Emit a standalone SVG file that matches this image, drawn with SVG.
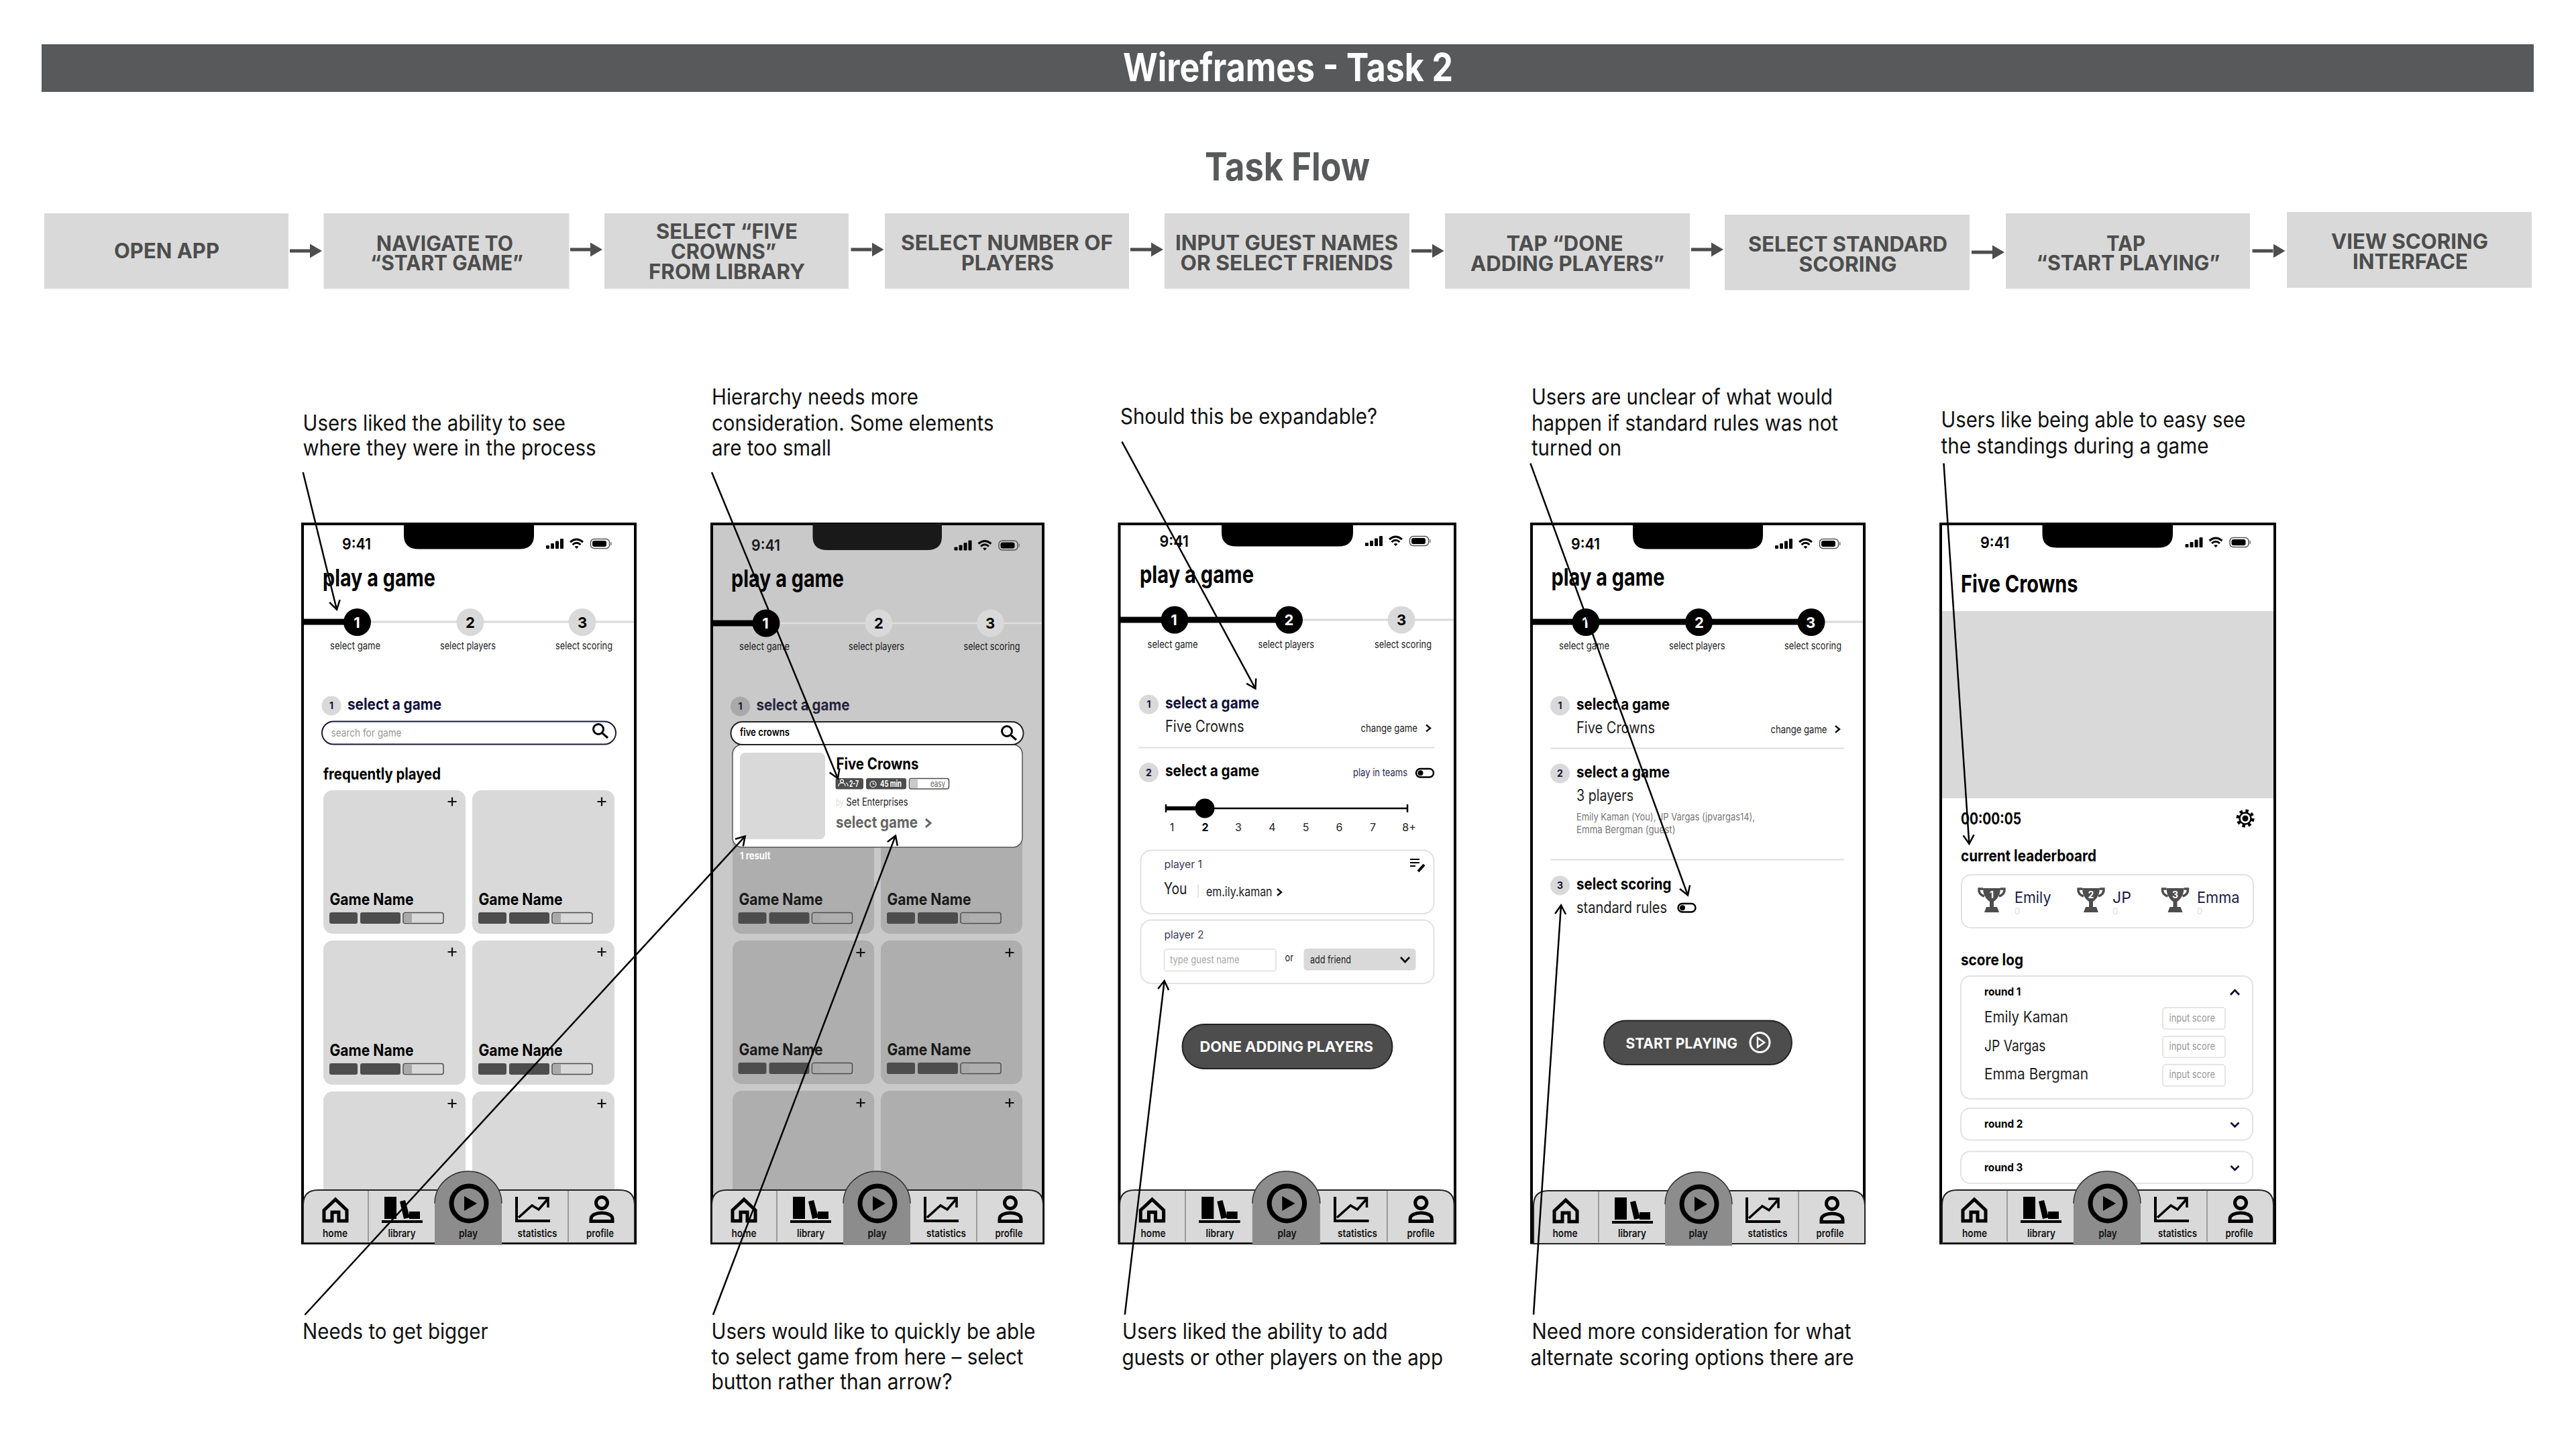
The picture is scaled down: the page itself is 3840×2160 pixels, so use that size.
<svg xmlns="http://www.w3.org/2000/svg" width="3840" height="2160" viewBox="0 0 3840 2160">
<style>
text{font-family:Inter,"Liberation Sans",sans-serif;fill:#000}
.title{font-size:58px;font-weight:700;fill:#fff}
.sub{font-size:58px;font-weight:700;fill:#58595b}
.box{fill:#d9d9d9}
.fl{font-size:31px;font-weight:700;fill:#4d4d4d;text-anchor:middle}
.ann{font-size:32px;font-weight:400;fill:#111}
.conn{stroke:#000;stroke-width:2.5;fill:none;marker-end:url(#open)}
.flow{stroke:#4d4d4d;stroke-width:5;fill:none;marker-end:url(#solid)}
.frame{fill:#fff;stroke:#000;stroke-width:4}
.time{font-size:23px;font-weight:600}
.h1{font-size:36px;font-weight:700}
.h2{font-size:24px;font-weight:700}
.h2n{font-size:24px;font-weight:700;fill:#12123a}
.reg{font-size:24px;font-weight:400;fill:#222}
.sm{font-size:16px;font-weight:400;fill:#222}
.ph{font-size:16px;font-weight:400;fill:#999}
.tab{font-size:16px;font-weight:600;text-anchor:middle;fill:#111}
.stepW{font-size:22px;font-weight:700;fill:#fff;text-anchor:middle}
.stepK{font-size:22px;font-weight:700;fill:#000;text-anchor:middle}
.bdg{font-size:14px;font-weight:700;fill:#12123a;text-anchor:middle}
.num{font-size:16px;font-weight:400;fill:#222;text-anchor:middle}
.thin{stroke:#d9d9d9;stroke-width:3}
.thick{stroke:#000;stroke-width:9}
.rule{stroke:#ddd;stroke-width:2}
.outl{fill:#fff;stroke:#e2e2e2;stroke-width:2}
.card{fill:#d9d9d9}
.cardd{fill:#aeaeae}
</style>
<defs>
<marker id="open" markerUnits="userSpaceOnUse" markerWidth="24" markerHeight="24" viewBox="-18 -12 24 24" refX="0" refY="0" orient="auto"><path d="M-13,-8 L0,0 L-13,8" fill="none" stroke="#000" stroke-width="2.5"/></marker>
<marker id="solid" markerUnits="userSpaceOnUse" markerWidth="22" markerHeight="24" viewBox="0 -12 22 24" refX="0" refY="0" orient="auto"><path d="M0,-10.5 L18,0 L0,10.5 Z" fill="#4d4d4d"/></marker>
<g id="status">
<rect x="0" y="10" width="5" height="5" rx="1"/><rect x="7" y="7" width="5" height="8" rx="1"/><rect x="14" y="3.500" width="5" height="11.500" rx="1"/><rect x="21" y="0" width="5" height="15" rx="1"/>
<path d="M36,5 Q45.500,-3 55,5 M39.500,9 Q45.500,3.500 51.500,9" fill="none" stroke="#000" stroke-width="3"/><path d="M42.500,12 L45.500,15 L48.500,12 Q45.500,10 42.500,12 Z"/>
<rect x="66.500" y="0.500" width="28" height="14" rx="5" fill="none" stroke="#555" stroke-width="1.500"/><rect x="69" y="3" width="21" height="9" rx="3"/><rect x="96" y="5" width="1.500" height="5" fill="#777"/>
</g>
<g id="tabbar">
<path d="M1,1853 V1796 Q1,1774 23,1774 H473 Q495,1774 495,1796 V1853 Z" fill="#d9d9d9" stroke="#222" stroke-width="2"/>
<path d="M98,1775 V1851 M396,1775 V1851" stroke="#888" stroke-width="1.500"/>
<path d="M197,1856 V1794 C197,1765 222,1746 247,1746 C272,1746 297,1765 297,1794 V1856 Z" fill="#8c8c8c"/>
<path d="M197,1794 C197,1765 222,1746 247,1746 C272,1746 297,1765 297,1794" fill="none" stroke="#333" stroke-width="1.500"/>
<path d="M49,1788 L32,1804 V1820 H44 V1807 H54 V1820 H66 V1804 Z" fill="none" stroke="#000" stroke-width="5"/>
<rect x="122" y="1784" width="18" height="33"/><path d="M145,1791 L153,1789 L160,1815 L151,1817 Z"/><rect x="159" y="1806" width="16" height="11"/><rect x="118" y="1819" width="61" height="4"/>
<ellipse cx="248" cy="1794" rx="26" ry="26" fill="none" stroke="#000" stroke-width="7"/><path d="M241,1783 L260,1794 L241,1805 Z"/>
<path d="M319,1784 V1820 H369" fill="none" stroke="#000" stroke-width="4"/><path d="M322,1815 L342,1797 L352,1803 L365,1788 M351,1786 H366 V1800" fill="none" stroke="#000" stroke-width="3.500"/>
<circle cx="446" cy="1793" r="8.500" fill="none" stroke="#000" stroke-width="5"/><path d="M430,1820.500 V1817 C430,1811 438,1808 446,1808 S462,1811 462,1817 V1820.500 Z" fill="none" stroke="#000" stroke-width="5"/>
</g>
<g id="mag"><circle cx="-3" cy="-3" r="7.500" fill="none" stroke="#000" stroke-width="3"/><path d="M3,3 L11,10" stroke="#000" stroke-width="3"/></g>
<path id="plus" d="M-6.500,0 H6.500 M0,-6.500 V6.500" stroke="#111" stroke-width="2.200" fill="none"/>
<g id="pills"><rect x="0" y="0" width="42" height="17" rx="3" fill="#4d4d4d"/><rect x="46" y="0" width="60" height="17" rx="3" fill="#4d4d4d"/><rect x="110" y="0.500" width="60" height="16" rx="3" stroke="#4d4d4d" stroke-width="1.500"/><rect x="111" y="1.500" width="12" height="14" fill="#a9a9a9"/></g>
<path id="chev" d="M-4,-5 L2,0 L-4,5" fill="none" stroke="#111" stroke-width="2.500"/>
<path id="chevd" d="M-6,-3 L0,3 L6,-3" fill="none" stroke="#12123a" stroke-width="2.800"/>
<g id="toggle"><rect x="1" y="1" width="26" height="12.500" rx="6.200" fill="#fff" stroke="#000" stroke-width="2.500"/><circle cx="7.500" cy="7.200" r="4"/></g>
<g id="trophy"><path d="M-13,2 H13 C13,14 6,20 3,22 V30 H8 L11,38 H-11 L-8,30 H-3 V22 C-6,20 -13,14 -13,2 Z" fill="#4d4d4d"/><path d="M-13,3 H-19 Q-20,11 -11,14 M13,3 H19 Q20,11 11,14" fill="none" stroke="#4d4d4d" stroke-width="3.500"/></g>
</defs>

<rect width="3840" height="2160" fill="#fff"/>

<g id="header"><rect x="62" y="66" width="3715" height="71" fill="#58595b"/>
<text class="title" x="1674" y="121" textLength="492" lengthAdjust="spacingAndGlyphs">Wireframes - Task 2</text></g>
<text id="subtitle" class="sub" x="1796" y="269" textLength="246" lengthAdjust="spacingAndGlyphs">Task Flow</text>

<g id="flow-1"><rect class="box" x="66" y="318" width="364" height="112.500"/><text class="fl" x="248.500" y="385" textLength="157" lengthAdjust="spacingAndGlyphs">OPEN APP</text></g>
<g id="flow-2"><rect class="box" x="482.500" y="318" width="366" height="112.500"/><text class="fl" x="663" y="373.500" textLength="204" lengthAdjust="spacingAndGlyphs">NAVIGATE TO</text><text class="fl" x="666" y="403.300" textLength="228" lengthAdjust="spacingAndGlyphs">“START GAME”</text></g>
<g id="flow-3"><rect class="box" x="901" y="318" width="364" height="112.500"/><text class="fl" x="1083.500" y="356" textLength="211" lengthAdjust="spacingAndGlyphs">SELECT “FIVE</text><text class="fl" x="1078.500" y="386" textLength="157" lengthAdjust="spacingAndGlyphs">CROWNS”</text><text class="fl" x="1083.500" y="416" textLength="233" lengthAdjust="spacingAndGlyphs">FROM LIBRARY</text></g>
<g id="flow-4"><rect class="box" x="1319" y="318" width="364" height="112.500"/><text class="fl" x="1501" y="373" textLength="316" lengthAdjust="spacingAndGlyphs">SELECT NUMBER OF</text><text class="fl" x="1502" y="403" textLength="138" lengthAdjust="spacingAndGlyphs">PLAYERS</text></g>
<g id="flow-5"><rect class="box" x="1736" y="318" width="365" height="112.500"/><text class="fl" x="1918" y="373" textLength="332" lengthAdjust="spacingAndGlyphs">INPUT GUEST NAMES</text><text class="fl" x="1918" y="403" textLength="317" lengthAdjust="spacingAndGlyphs">OR SELECT FRIENDS</text></g>
<g id="flow-6"><rect class="box" x="2154" y="318" width="365" height="112.500"/><text class="fl" x="2332.500" y="374" textLength="174" lengthAdjust="spacingAndGlyphs">TAP “DONE</text><text class="fl" x="2336.500" y="404" textLength="289" lengthAdjust="spacingAndGlyphs">ADDING PLAYERS”</text></g>
<g id="flow-7"><rect class="box" x="2571" y="320" width="365" height="112.500"/><text class="fl" x="2754.500" y="375" textLength="297" lengthAdjust="spacingAndGlyphs">SELECT STANDARD</text><text class="fl" x="2754.500" y="405" textLength="146" lengthAdjust="spacingAndGlyphs">SCORING</text></g>
<g id="flow-8"><rect class="box" x="2990" y="318" width="364" height="112.500"/><text class="fl" x="3169" y="373.500" textLength="58" lengthAdjust="spacingAndGlyphs">TAP</text><text class="fl" x="3172.500" y="403.300" textLength="274" lengthAdjust="spacingAndGlyphs">“START PLAYING”</text></g>
<g id="flow-9"><rect class="box" x="3409" y="316" width="365" height="113"/><text class="fl" x="3592" y="371" textLength="234" lengthAdjust="spacingAndGlyphs">VIEW SCORING</text><text class="fl" x="3593" y="401" textLength="172" lengthAdjust="spacingAndGlyphs">INTERFACE</text></g>

<!-- PHONE 1 -->
<g id="phone-1">
<rect class="frame" x="451" y="781" width="496" height="1072"/>
<path d="M602,781 H796 V798 Q796,818.500 774,818.500 H624 Q602,818.500 602,798 Z"/>
<text class="time" x="510" y="819" textLength="43" lengthAdjust="spacingAndGlyphs">9:41</text>
<use href="#status" x="814" y="803"/>
<text class="h1" x="481" y="874" textLength="168" lengthAdjust="spacingAndGlyphs">play a game</text>
<line class="thin" x1="532" y1="927" x2="945" y2="927"/><line class="thick" x1="453" y1="927" x2="532" y2="927"/>
<circle cx="532.500" cy="927.500" r="20.500"/><circle cx="701" cy="927.500" r="20.500" fill="#d9d9d9"/><circle cx="868" cy="927.500" r="20.500" fill="#d9d9d9"/>
<text class="stepW" x="532" y="935.500">1</text><text class="stepK" x="701" y="935.500">2</text><text class="stepK" x="868" y="935.500">3</text>
<text class="sm" x="492" y="968" textLength="75" lengthAdjust="spacingAndGlyphs">select game</text><text class="sm" x="656" y="968" textLength="83" lengthAdjust="spacingAndGlyphs">select players</text><text class="sm" x="828" y="968" textLength="85" lengthAdjust="spacingAndGlyphs">select scoring</text>
<circle cx="494" cy="1052" r="14.500" fill="#d9d9d9"/><text class="bdg" x="494" y="1057">1</text>
<text class="h2n" x="518" y="1058" textLength="140" lengthAdjust="spacingAndGlyphs">select a game</text>
<rect x="480" y="1075.500" width="438" height="34" rx="17" fill="#fff" stroke="#1a1a3a" stroke-width="2"/>
<text class="ph" x="493.500" y="1098" textLength="105" lengthAdjust="spacingAndGlyphs">search for game</text>
<use href="#mag" x="895" y="1090"/>
<text class="h2" x="482" y="1162" textLength="175" lengthAdjust="spacingAndGlyphs">frequently played</text>
<rect class="card" x="482" y="1178" width="212" height="214" rx="14"/><rect class="card" x="704" y="1178" width="212" height="214" rx="14"/>
<rect class="card" x="482" y="1402" width="212" height="215" rx="14"/><rect class="card" x="704" y="1402" width="212" height="215" rx="14"/>
<rect class="card" x="482" y="1627" width="212" height="160" rx="14"/><rect class="card" x="704" y="1627" width="212" height="160" rx="14"/>
<use href="#plus" x="674" y="1195"/><use href="#plus" x="897" y="1195"/><use href="#plus" x="674" y="1419"/><use href="#plus" x="897" y="1419"/><use href="#plus" x="674" y="1645"/><use href="#plus" x="897" y="1645"/>
<text class="h2" x="491.500" y="1349" textLength="125" lengthAdjust="spacingAndGlyphs">Game Name</text><text class="h2" x="713.500" y="1349" textLength="125" lengthAdjust="spacingAndGlyphs">Game Name</text>
<text class="h2" x="491.500" y="1574" textLength="125" lengthAdjust="spacingAndGlyphs">Game Name</text><text class="h2" x="713.500" y="1574" textLength="125" lengthAdjust="spacingAndGlyphs">Game Name</text>
<use href="#pills" x="491" y="1360" fill="#d9d9d9"/><use href="#pills" x="713" y="1360" fill="#d9d9d9"/><use href="#pills" x="491" y="1585" fill="#d9d9d9"/><use href="#pills" x="713" y="1585" fill="#d9d9d9"/>
<use href="#tabbar" x="451"/>
<text class="tab" x="499.500" y="1844" textLength="37" lengthAdjust="spacingAndGlyphs">home</text><text class="tab" x="599" y="1844" textLength="41" lengthAdjust="spacingAndGlyphs">library</text><text class="tab" x="698" y="1844" textLength="28" lengthAdjust="spacingAndGlyphs">play</text><text class="tab" x="801" y="1844" textLength="59" lengthAdjust="spacingAndGlyphs">statistics</text><text class="tab" x="894.500" y="1844" textLength="41" lengthAdjust="spacingAndGlyphs">profile</text>
</g>

<!-- PHONE 2 -->
<g id="phone-2">
<rect class="frame" x="1061" y="781" width="494" height="1072" style="fill:#c9c9c9"/>
<path d="M1211.500,781 H1404 V800 Q1404,820 1382,820 H1233 Q1211.500,820 1211.500,800 Z" fill="#191919"/>
<text class="time" x="1120" y="820.500" textLength="43" lengthAdjust="spacingAndGlyphs" style="fill:#1a1a1a">9:41</text>
<use href="#status" x="1422.500" y="805.500"/>
<text class="h1" x="1090" y="875" textLength="168" lengthAdjust="spacingAndGlyphs">play a game</text>
<line x1="1142" y1="929" x2="1553" y2="929" stroke="#e0e0e0" stroke-width="2.500"/><line class="thick" x1="1063" y1="929" x2="1142" y2="929"/>
<circle cx="1142" cy="929" r="20.500"/><circle cx="1310" cy="929" r="20.500" fill="#d9d9d9"/><circle cx="1476.500" cy="929" r="20.500" fill="#d9d9d9"/>
<text class="stepW" x="1141" y="937">1</text><text class="stepK" x="1310" y="937">2</text><text class="stepK" x="1476" y="937">3</text>
<text class="sm" x="1102" y="969" textLength="75" lengthAdjust="spacingAndGlyphs">select game</text><text class="sm" x="1265" y="969" textLength="83" lengthAdjust="spacingAndGlyphs">select players</text><text class="sm" x="1436.500" y="969" textLength="84" lengthAdjust="spacingAndGlyphs">select scoring</text>
<circle cx="1103.500" cy="1053" r="14.500" fill="#a9a9a9"/><text class="bdg" x="1103.500" y="1058">1</text>
<text class="h2" x="1127.500" y="1059" textLength="139" lengthAdjust="spacingAndGlyphs" style="fill:#26263f">select a game</text>
<rect class="cardd" x="1092" y="1178" width="211" height="214" rx="14"/><rect class="cardd" x="1313" y="1178" width="211" height="214" rx="14"/>
<rect class="cardd" x="1092" y="1402" width="211" height="214" rx="14"/><rect class="cardd" x="1313" y="1402" width="211" height="214" rx="14"/>
<rect class="cardd" x="1092" y="1626" width="211" height="160" rx="14"/><rect class="cardd" x="1313" y="1626" width="211" height="160" rx="14"/>
<use href="#plus" x="1283" y="1420"/><use href="#plus" x="1505" y="1420"/><use href="#plus" x="1283" y="1644"/><use href="#plus" x="1505" y="1644"/>
<text class="h2" x="1101.500" y="1349" textLength="125" lengthAdjust="spacingAndGlyphs" style="fill:#1a1a1a">Game Name</text><text class="h2" x="1322.500" y="1349" textLength="125" lengthAdjust="spacingAndGlyphs" style="fill:#1a1a1a">Game Name</text>
<text class="h2" x="1101.500" y="1573" textLength="125" lengthAdjust="spacingAndGlyphs" style="fill:#1a1a1a">Game Name</text><text class="h2" x="1322.500" y="1573" textLength="125" lengthAdjust="spacingAndGlyphs" style="fill:#1a1a1a">Game Name</text>
<use href="#pills" x="1100.500" y="1360" fill="#aeaeae"/><use href="#pills" x="1322" y="1360" fill="#aeaeae"/><use href="#pills" x="1100.500" y="1584" fill="#aeaeae"/><use href="#pills" x="1322" y="1584" fill="#aeaeae"/>
<rect x="1092" y="1110" width="432" height="153" rx="14" fill="#fff" stroke="#555" stroke-width="1.500"/>
<rect x="1089.500" y="1076" width="436" height="34" rx="17" fill="#fff" stroke="#222" stroke-width="2"/>
<text x="1103" y="1097" font-size="16" font-weight="600" textLength="74" lengthAdjust="spacingAndGlyphs">five crowns</text>
<use href="#mag" x="1504" y="1093"/>
<rect x="1103" y="1122" width="127" height="129" rx="8" fill="#d9d9d9"/>
<text class="h2" x="1246.500" y="1146.500" textLength="123" lengthAdjust="spacingAndGlyphs">Five Crowns</text>
<rect x="1245.500" y="1160" width="41.500" height="16.500" rx="3" fill="#4d4d4d"/><rect x="1291" y="1160" width="60" height="16.500" rx="3" fill="#4d4d4d"/><rect x="1355.500" y="1160.500" width="59" height="15.500" rx="3" fill="#fff" stroke="#4d4d4d" stroke-width="1.500"/><rect x="1356.500" y="1161.500" width="11.500" height="13.500" fill="#c9c9c9"/>
<path d="M1250,1172 Q1250,1167 1255,1167 Q1260,1167 1260,1172 M1261,1167 Q1264,1168 1264,1172" fill="none" stroke="#fff" stroke-width="1.200"/><circle cx="1255" cy="1164.500" r="2.300" fill="none" stroke="#fff" stroke-width="1.200"/>
<circle cx="1301.500" cy="1169" r="4.500" fill="none" stroke="#fff" stroke-width="1.200"/><path d="M1301.500,1166 V1169 H1304" fill="none" stroke="#fff" stroke-width="1"/>
<text x="1266" y="1173" font-size="13" font-weight="700" textLength="14" lengthAdjust="spacingAndGlyphs" style="fill:#fff">2-7</text>
<text x="1312" y="1173" font-size="13" font-weight="700" textLength="32" lengthAdjust="spacingAndGlyphs" style="fill:#fff">45 min</text>
<text x="1387" y="1173" font-size="13" font-weight="400" textLength="22" lengthAdjust="spacingAndGlyphs" style="fill:#666">easy</text>
<text x="1246" y="1201" font-size="14" textLength="11" lengthAdjust="spacingAndGlyphs" style="fill:#ddd">by</text>
<text x="1261.500" y="1201" font-size="15.500" textLength="92" lengthAdjust="spacingAndGlyphs" style="fill:#222">Set Enterprises</text>
<text class="h2" x="1246" y="1234" textLength="122" lengthAdjust="spacingAndGlyphs" style="fill:#666">select game</text>
<path d="M1380,1221 L1387,1227 L1380,1233" fill="none" stroke="#666" stroke-width="3"/>
<text x="1103" y="1280.500" font-size="15" font-weight="700" textLength="45.500" lengthAdjust="spacingAndGlyphs" style="fill:#fff">1 result</text>
<use href="#tabbar" x="1060"/>
<text class="tab" x="1109" y="1844" textLength="37" lengthAdjust="spacingAndGlyphs">home</text><text class="tab" x="1208.500" y="1844" textLength="41" lengthAdjust="spacingAndGlyphs">library</text><text class="tab" x="1307.500" y="1844" textLength="28" lengthAdjust="spacingAndGlyphs">play</text><text class="tab" x="1410.500" y="1844" textLength="59" lengthAdjust="spacingAndGlyphs">statistics</text><text class="tab" x="1504" y="1844" textLength="41" lengthAdjust="spacingAndGlyphs">profile</text>
</g>

<!-- PHONE 3 -->
<g id="phone-3">
<rect class="frame" x="1668.500" y="781" width="500.500" height="1072"/>
<path d="M1821,781 H2017 V794 Q2017,814.500 1995,814.500 H1843 Q1821,814.500 1821,794 Z"/>
<text class="time" x="1728.500" y="815" textLength="43.500" lengthAdjust="spacingAndGlyphs">9:41</text>
<use href="#status" x="2035" y="799"/>
<text class="h1" x="1699" y="868.500" textLength="170" lengthAdjust="spacingAndGlyphs">play a game</text>
<line class="thin" x1="1921" y1="924" x2="2167" y2="924"/><line class="thick" x1="1670" y1="924" x2="1921" y2="924"/>
<circle cx="1751" cy="924" r="20.500"/><circle cx="1921.500" cy="924" r="20.500"/><circle cx="2089" cy="924" r="20.500" fill="#d9d9d9"/>
<text class="stepW" x="1750" y="932">1</text><text class="stepW" x="1921.500" y="932">2</text><text class="stepK" x="2089" y="932">3</text>
<text class="sm" x="1710.500" y="965.500" textLength="75" lengthAdjust="spacingAndGlyphs">select game</text><text class="sm" x="1875.500" y="965.500" textLength="83.500" lengthAdjust="spacingAndGlyphs">select players</text><text class="sm" x="2049" y="965.500" textLength="85" lengthAdjust="spacingAndGlyphs">select scoring</text>
<circle cx="1712.500" cy="1050" r="14.500" fill="#d9d9d9"/><text class="bdg" x="1712.500" y="1055">1</text>
<text class="h2n" x="1737" y="1055.500" textLength="140" lengthAdjust="spacingAndGlyphs">select a game</text>
<text class="reg" x="1737" y="1091" textLength="117.500" lengthAdjust="spacingAndGlyphs">Five Crowns</text>
<text class="sm" x="2028.500" y="1091" textLength="84.500" lengthAdjust="spacingAndGlyphs">change game</text><use href="#chev" x="2130" y="1085.500"/>
<line class="rule" x1="1697.500" y1="1114.500" x2="2138.500" y2="1114.500"/>
<circle cx="1712.500" cy="1151.500" r="14.500" fill="#d9d9d9"/><text class="bdg" x="1712.500" y="1156.500">2</text>
<text class="h2" x="1737" y="1157" textLength="140" lengthAdjust="spacingAndGlyphs">select a game</text>
<text class="sm" x="2017" y="1157" textLength="81" lengthAdjust="spacingAndGlyphs" style="fill:#2a2a55">play in teams</text>
<use href="#toggle" x="2110" y="1145"/>
<path d="M1738,1199 V1211 M2098,1199 V1211" stroke="#000" stroke-width="2.500"/><line x1="1738" y1="1205" x2="2098" y2="1205" stroke="#000" stroke-width="2.500"/><line x1="1738" y1="1205" x2="1796" y2="1205" stroke="#000" stroke-width="6"/><circle cx="1796" cy="1205" r="14.500"/>
<text class="num" x="1747" y="1238.500">1</text><text class="num" x="1796.500" y="1238.500" style="font-weight:700;fill:#000">2</text><text class="num" x="1846" y="1238.500">3</text><text class="num" x="1896.500" y="1238.500">4</text><text class="num" x="1946.500" y="1238.500">5</text><text class="num" x="1996.500" y="1238.500">6</text><text class="num" x="2046.500" y="1238.500">7</text><text class="num" x="2100.500" y="1238.500">8+</text>
<rect class="outl" x="1700.500" y="1267.500" width="437" height="94.500" rx="16"/>
<text class="sm" x="1735.500" y="1294" textLength="56.500" lengthAdjust="spacingAndGlyphs" style="fill:#3a3a5a">player 1</text>
<path d="M2102,1281 H2116 M2102,1286 H2116 M2102,1291 H2110" stroke="#000" stroke-width="2"/><path d="M2114,1299 L2123,1289" stroke="#000" stroke-width="4"/>
<text class="reg" x="1735" y="1332.500" textLength="34.500" lengthAdjust="spacingAndGlyphs">You</text>
<line x1="1786" y1="1319" x2="1786" y2="1338.500" stroke="#ddd" stroke-width="1.500"/>
<text x="1798" y="1336" font-size="19" textLength="98.500" lengthAdjust="spacingAndGlyphs" style="fill:#222">em.ily.kaman</text><use href="#chev" x="1908" y="1330"/>
<rect class="outl" x="1700.500" y="1371.500" width="437" height="94.500" rx="16"/>
<text class="sm" x="1735.500" y="1398.500" textLength="59" lengthAdjust="spacingAndGlyphs" style="fill:#3a3a5a">player 2</text>
<rect x="1735.500" y="1415" width="166.500" height="32.500" rx="4" fill="#fff" stroke="#ddd" stroke-width="1.500"/>
<text class="ph" x="1744" y="1435.500" textLength="103.500" lengthAdjust="spacingAndGlyphs" style="fill:#aaa">type guest name</text>
<text class="sm" x="1915.500" y="1433" textLength="12.500" lengthAdjust="spacingAndGlyphs">or</text>
<rect x="1943.500" y="1414" width="167" height="32.500" rx="5" fill="#d9d9d9"/>
<text class="sm" x="1953" y="1435.500" textLength="61" lengthAdjust="spacingAndGlyphs">add friend</text>
<path d="M2088,1427 L2094.500,1434 L2101,1427" fill="none" stroke="#111" stroke-width="2.800"/>
<rect x="1762.500" y="1527" width="313" height="66" rx="33" fill="#4d4d4d" stroke="#222" stroke-width="2"/>
<text x="1788.500" y="1568" font-size="22" font-weight="700" textLength="258.500" lengthAdjust="spacingAndGlyphs" style="fill:#fff">DONE ADDING PLAYERS</text>
<use href="#tabbar" transform="translate(1668,0) scale(1.0095,1)"/>
<text class="tab" x="1719" y="1844" textLength="37" lengthAdjust="spacingAndGlyphs">home</text><text class="tab" x="1818.500" y="1844" textLength="42" lengthAdjust="spacingAndGlyphs">library</text><text class="tab" x="1918.500" y="1844" textLength="28" lengthAdjust="spacingAndGlyphs">play</text><text class="tab" x="2023.500" y="1844" textLength="59" lengthAdjust="spacingAndGlyphs">statistics</text><text class="tab" x="2118" y="1844" textLength="41" lengthAdjust="spacingAndGlyphs">profile</text>
</g>

<!-- PHONE 4 -->
<g id="phone-4">
<rect class="frame" x="2283" y="781" width="496" height="1071.500"/>
<path d="M2434,781 H2628 V798 Q2628,818.500 2606,818.500 H2456 Q2434,818.500 2434,798 Z"/>
<text class="time" x="2342" y="819" textLength="43" lengthAdjust="spacingAndGlyphs">9:41</text>
<use href="#status" x="2646" y="803"/>
<text class="h1" x="2312.500" y="873" textLength="169" lengthAdjust="spacingAndGlyphs">play a game</text>
<line class="thin" x1="2700" y1="927" x2="2777" y2="927"/><line class="thick" x1="2285" y1="927" x2="2700" y2="927"/>
<circle cx="2364" cy="927.500" r="20.500"/><circle cx="2532.500" cy="927.500" r="20.500"/><circle cx="2700" cy="927.500" r="20.500"/>
<text class="stepW" x="2363" y="935.500">1</text><text class="stepW" x="2533" y="935.500">2</text><text class="stepW" x="2699" y="935.500">3</text>
<text class="sm" x="2324" y="968" textLength="75" lengthAdjust="spacingAndGlyphs">select game</text><text class="sm" x="2488" y="968" textLength="83.500" lengthAdjust="spacingAndGlyphs">select players</text><text class="sm" x="2660" y="968" textLength="85" lengthAdjust="spacingAndGlyphs">select scoring</text>
<circle cx="2325.500" cy="1052" r="14.500" fill="#d9d9d9"/><text class="bdg" x="2325.500" y="1057">1</text>
<text class="h2" x="2350" y="1058" textLength="139" lengthAdjust="spacingAndGlyphs">select a game</text>
<text class="reg" x="2350" y="1092.500" textLength="117" lengthAdjust="spacingAndGlyphs">Five Crowns</text>
<text class="sm" x="2639.500" y="1093" textLength="84" lengthAdjust="spacingAndGlyphs">change game</text><use href="#chev" x="2740" y="1087"/>
<line class="rule" x1="2311.500" y1="1115.500" x2="2749" y2="1115.500"/>
<circle cx="2325.500" cy="1153" r="14.500" fill="#d9d9d9"/><text class="bdg" x="2325.500" y="1158">2</text>
<text class="h2" x="2350" y="1158.500" textLength="139" lengthAdjust="spacingAndGlyphs">select a game</text>
<text class="reg" x="2350" y="1194" textLength="85" lengthAdjust="spacingAndGlyphs">3 players</text>
<text x="2350" y="1223" font-size="15" textLength="266" lengthAdjust="spacingAndGlyphs" style="fill:#777">Emily Kaman (You), JP Vargas (jpvargas14),</text>
<text x="2350" y="1242" font-size="15" textLength="147.500" lengthAdjust="spacingAndGlyphs" style="fill:#777">Emma Bergman (guest)</text>
<line class="rule" x1="2311.500" y1="1281.500" x2="2749" y2="1281.500"/>
<circle cx="2325.500" cy="1320" r="14.500" fill="#d9d9d9"/><text class="bdg" x="2325.500" y="1325">3</text>
<text class="h2" x="2350" y="1326" textLength="141.500" lengthAdjust="spacingAndGlyphs">select scoring</text>
<text class="reg" x="2350" y="1360.500" textLength="135" lengthAdjust="spacingAndGlyphs">standard rules</text>
<use href="#toggle" x="2500.500" y="1346"/>
<rect x="2391" y="1521.500" width="280" height="65.500" rx="32.700" fill="#4d4d4d" stroke="#222" stroke-width="2"/>
<text x="2423.500" y="1562.500" font-size="22" font-weight="700" textLength="166.500" lengthAdjust="spacingAndGlyphs" style="fill:#fff">START PLAYING</text>
<circle cx="2623.500" cy="1554" r="14.500" fill="none" stroke="#fff" stroke-width="3"/><path d="M2620,1547 L2630,1554 L2620,1561 Z" fill="none" stroke="#fff" stroke-width="2.500"/>
<use href="#tabbar" transform="translate(2285,1)"/>
<text class="tab" x="2333" y="1844" textLength="37" lengthAdjust="spacingAndGlyphs">home</text><text class="tab" x="2433" y="1844" textLength="42" lengthAdjust="spacingAndGlyphs">library</text><text class="tab" x="2531.500" y="1844" textLength="28" lengthAdjust="spacingAndGlyphs">play</text><text class="tab" x="2635" y="1844" textLength="59" lengthAdjust="spacingAndGlyphs">statistics</text><text class="tab" x="2728" y="1844" textLength="41" lengthAdjust="spacingAndGlyphs">profile</text>
</g>

<!-- PHONE 5 -->
<g id="phone-5">
<rect class="frame" x="2893" y="781" width="498" height="1072"/>
<path d="M3044.500,781 H3239 V796 Q3239,816.500 3217,816.500 H3066 Q3044.500,816.500 3044.500,796 Z"/>
<text class="time" x="2952" y="816.500" textLength="43.500" lengthAdjust="spacingAndGlyphs">9:41</text>
<use href="#status" x="3257.500" y="801"/>
<text class="h1" x="2923" y="883" textLength="174.500" lengthAdjust="spacingAndGlyphs">Five Crowns</text>
<rect x="2895" y="911" width="494" height="279" fill="#d9d9d9"/>
<text class="h2" x="2923" y="1229" textLength="90" lengthAdjust="spacingAndGlyphs">00:00:05</text>
<circle cx="3347" cy="1220" r="11" fill="none" stroke="#000" stroke-width="5" stroke-dasharray="4.300 4.340"/><circle cx="3347" cy="1220" r="8.500" fill="#fff" stroke="#000" stroke-width="2.500"/><circle cx="3347" cy="1220" r="4.500"/>
<text class="h2" x="2923" y="1283.500" textLength="202" lengthAdjust="spacingAndGlyphs">current leaderboard</text>
<rect class="outl" x="2924" y="1304" width="435" height="79" rx="14"/>
<use href="#trophy" x="2969" y="1322"/><use href="#trophy" x="3117" y="1322"/><use href="#trophy" x="3242.500" y="1322"/>
<text x="2969" y="1339" font-size="14" font-weight="700" text-anchor="middle" style="fill:#fff">1</text><text x="3117" y="1339" font-size="14" font-weight="700" text-anchor="middle" style="fill:#fff">2</text><text x="3242.500" y="1339" font-size="14" font-weight="700" text-anchor="middle" style="fill:#fff">3</text>
<text x="3003" y="1345.500" font-size="23" textLength="54.500" lengthAdjust="spacingAndGlyphs" style="fill:#1c1c44">Emily</text><text x="3149" y="1345.500" font-size="23" textLength="28" lengthAdjust="spacingAndGlyphs" style="fill:#1c1c44">JP</text><text x="3275" y="1345.500" font-size="23" textLength="63.500" lengthAdjust="spacingAndGlyphs" style="fill:#1c1c44">Emma</text>
<text x="3003" y="1363" font-size="13" style="fill:#ddd">0</text><text x="3149" y="1363" font-size="13" style="fill:#ddd">0</text><text x="3275" y="1363" font-size="13" style="fill:#ddd">0</text>
<text class="h2" x="2923" y="1438.500" textLength="93" lengthAdjust="spacingAndGlyphs">score log</text>
<rect class="outl" x="2923" y="1455" width="435" height="183" rx="14"/>
<text x="2958" y="1484" font-size="16.500" font-weight="700" textLength="54.500" lengthAdjust="spacingAndGlyphs">round 1</text>
<path d="M3325,1483 L3331.500,1476 L3338,1483" fill="none" stroke="#12123a" stroke-width="2.800"/>
<text x="2958" y="1524" font-size="23" textLength="125" lengthAdjust="spacingAndGlyphs" style="fill:#222">Emily Kaman</text><text x="2958" y="1566.500" font-size="23" textLength="91.500" lengthAdjust="spacingAndGlyphs" style="fill:#222">JP Vargas</text><text x="2958" y="1608.500" font-size="23" textLength="155" lengthAdjust="spacingAndGlyphs" style="fill:#222">Emma Bergman</text>
<rect x="3224" y="1502" width="93" height="32" rx="4" fill="#fff" stroke="#ddd" stroke-width="1.500"/><rect x="3224" y="1545" width="93" height="31.500" rx="4" fill="#fff" stroke="#ddd" stroke-width="1.500"/><rect x="3224" y="1587" width="93" height="32" rx="4" fill="#fff" stroke="#ddd" stroke-width="1.500"/>
<text class="ph" x="3233.500" y="1522.500" textLength="68.500" lengthAdjust="spacingAndGlyphs">input score</text><text class="ph" x="3233.500" y="1565" textLength="68.500" lengthAdjust="spacingAndGlyphs">input score</text><text class="ph" x="3233.500" y="1607" textLength="68.500" lengthAdjust="spacingAndGlyphs">input score</text>
<rect class="outl" x="2923" y="1652" width="435" height="47.500" rx="14"/>
<text x="2958" y="1681" font-size="16.500" font-weight="700" textLength="57.500" lengthAdjust="spacingAndGlyphs">round 2</text><use href="#chevd" x="3331.500" y="1676.500"/>
<rect class="outl" x="2923" y="1716.500" width="435" height="47.500" rx="14"/>
<text x="2958" y="1745.500" font-size="16.500" font-weight="700" textLength="57.500" lengthAdjust="spacingAndGlyphs">round 3</text><use href="#chevd" x="3331.500" y="1741"/>
<use href="#tabbar" x="2894"/>
<text class="tab" x="2943.500" y="1844" textLength="37" lengthAdjust="spacingAndGlyphs">home</text><text class="tab" x="3043" y="1844" textLength="42" lengthAdjust="spacingAndGlyphs">library</text><text class="tab" x="3142" y="1844" textLength="27" lengthAdjust="spacingAndGlyphs">play</text><text class="tab" x="3246" y="1844" textLength="58" lengthAdjust="spacingAndGlyphs">statistics</text><text class="tab" x="3338" y="1844" textLength="41" lengthAdjust="spacingAndGlyphs">profile</text>
</g>

<g id="annotations">
<g id="note-1"><text class="ann" x="451.500" y="641.700" textLength="391.500" lengthAdjust="spacingAndGlyphs">Users liked the ability to see</text><text class="ann" x="451.500" y="679.300" textLength="437" lengthAdjust="spacingAndGlyphs">where they were in the process</text></g>
<g id="note-2"><text class="ann" x="1061" y="603.300" textLength="308" lengthAdjust="spacingAndGlyphs">Hierarchy needs more</text><text class="ann" x="1061" y="641.700" textLength="420.500" lengthAdjust="spacingAndGlyphs">consideration. Some elements</text><text class="ann" x="1061" y="679.300" textLength="178" lengthAdjust="spacingAndGlyphs">are too small</text></g>
<g id="note-3"><text class="ann" x="1670" y="631.700" textLength="383" lengthAdjust="spacingAndGlyphs">Should this be expandable?</text></g>
<g id="note-4"><text class="ann" x="2283" y="603.300" textLength="449" lengthAdjust="spacingAndGlyphs">Users are unclear of what would</text><text class="ann" x="2283" y="641.700" textLength="457" lengthAdjust="spacingAndGlyphs">happen if standard rules was not</text><text class="ann" x="2283" y="679.300" textLength="134" lengthAdjust="spacingAndGlyphs">turned on</text></g>
<g id="note-5"><text class="ann" x="2893.500" y="637.300" textLength="454" lengthAdjust="spacingAndGlyphs">Users like being able to easy see</text><text class="ann" x="2893.500" y="675.700" textLength="399" lengthAdjust="spacingAndGlyphs">the standings during a game</text></g>
<g id="note-6"><text class="ann" x="451" y="1996" textLength="276.500" lengthAdjust="spacingAndGlyphs">Needs to get bigger</text></g>
<g id="note-7"><text class="ann" x="1060.500" y="1996" textLength="483" lengthAdjust="spacingAndGlyphs">Users would like to quickly be able</text><text class="ann" x="1060.500" y="2033.600" textLength="465" lengthAdjust="spacingAndGlyphs">to select game from here – select</text><text class="ann" x="1060.500" y="2071" textLength="359" lengthAdjust="spacingAndGlyphs">button rather than arrow?</text></g>
<g id="note-8"><text class="ann" x="1673" y="1995.500" textLength="395.500" lengthAdjust="spacingAndGlyphs">Users liked the ability to add</text><text class="ann" x="1672.500" y="2034.500" textLength="478.500" lengthAdjust="spacingAndGlyphs">guests or other players on the app</text></g>
<g id="note-9"><text class="ann" x="2283.500" y="1995.500" textLength="476" lengthAdjust="spacingAndGlyphs">Need more consideration for what</text><text class="ann" x="2281.500" y="2034.500" textLength="482" lengthAdjust="spacingAndGlyphs">alternate scoring options there are</text></g>
</g>

<g id="connectors">
<line class="flow" x1="432" y1="374" x2="462" y2="374"/>
<line class="flow" x1="850" y1="372" x2="880" y2="372"/>
<line class="flow" x1="1268.500" y1="372" x2="1299.500" y2="372"/>
<line class="flow" x1="1685" y1="372" x2="1716" y2="372"/>
<line class="flow" x1="2104" y1="374" x2="2134.500" y2="374"/>
<line class="flow" x1="2521" y1="372" x2="2551" y2="372"/>
<line class="flow" x1="2939" y1="376" x2="2970" y2="376"/>
<line class="flow" x1="3357.500" y1="374" x2="3388.500" y2="374"/>
<line class="conn" x1="451.700" y1="704" x2="502" y2="908.700"/>
<line class="conn" x1="1061" y1="704" x2="1249" y2="1160.400"/>
<line class="conn" x1="1672.400" y1="658.300" x2="1871.400" y2="1026.500"/>
<line class="conn" x1="2281.400" y1="690.700" x2="2516" y2="1334.500"/>
<line class="conn" x1="2897.500" y1="690.700" x2="2935.400" y2="1257.800"/>
<line class="conn" x1="454.400" y1="1960" x2="1110.700" y2="1246.600"/>
<line class="conn" x1="1063" y1="1960" x2="1335" y2="1245.700"/>
<line class="conn" x1="1676.800" y1="1959.700" x2="1735.700" y2="1462"/>
<line class="conn" x1="2286" y1="1959.700" x2="2327" y2="1349.500"/>
</g>
</svg>
